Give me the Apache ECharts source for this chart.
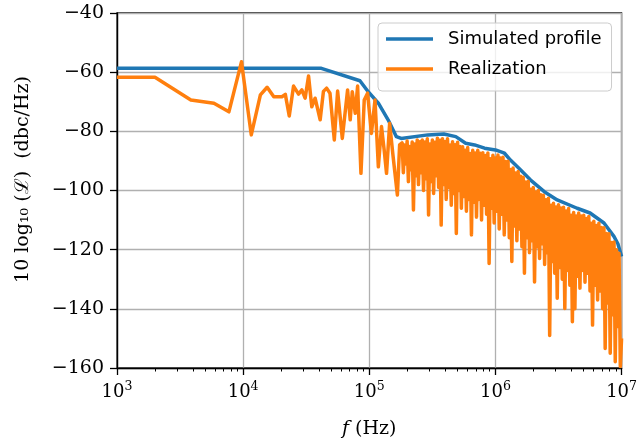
<!DOCTYPE html>
<html>
<head>
<meta charset="utf-8">
<script src="https://cdn.jsdelivr.net/npm/echarts@6/dist/echarts.min.js"></script>
<style>
  html, body { margin: 0; padding: 0; background: #ffffff; }
  #chart { width: 640px; height: 444px; }
</style>
</head>
<body>
<div id="chart"></div>
<script>
// Simulated phase-noise profile (Hz, dBc/Hz)
const profileFreq = [
  1e3, 4.17e4, 8.43e4, 9.8e4, 1.18e5, 1.41e5, 1.64e5, 1.79e5, 2.91e5, 3.9e5,
  4.85e5, 5.81e5, 6.84e5, 8.2e5, 1.0e6, 1.18e6, 1.315e6, 1.578e6, 1.891e6, 2.439e6,
  3.089e6, 4.441e6, 5.623e6, 7.251e6, 8.696e6, 9.35e6, 1e7
];
const profileLevel = [
  -58.7, -58.7, -62.9, -66.6, -70.5, -76.1, -81.8, -82.4, -81.2, -80.9,
  -81.8, -84.0, -84.6, -85.7, -86.3, -87.4, -89.7, -93.0, -96.4, -100.4,
  -103.2, -106.0, -107.6, -111.0, -115.5, -118.0, -122.3
];

// One noise realization drawn from the profile
const realizationFreq = [
  1e3, 2e3, 3.85e3, 5.87e3, 7.71e3, 9.7e3, 1.16e4, 1.37e4, 1.55e4, 1.75e4,
  2.03e4, 2.16e4, 2.32e4, 2.51e4, 2.75e4, 2.92e4, 3.1e4, 3.3e4, 3.5e4, 3.72e4,
  4.08e4, 4.33e4, 4.59e4, 4.88e4, 5.28e4, 5.61e4, 6.11e4, 6.73e4, 7.06e4, 7.33e4,
  7.74e4, 8.08e4, 8.59e4, 9.12e4, 9.69e4, 1.04e5, 1.11e5, 1.18e5, 1.25e5, 1.31e5,
  1.37e5, 1.45e5, 1.54e5, 1.67e5, 1.74e5,
  1.820e5, 1.862e5, 1.905e5, 1.950e5, 1.995e5, 2.042e5, 2.089e5, 2.138e5, 2.188e5, 2.239e5,
  2.291e5, 2.344e5, 2.399e5, 2.455e5, 2.512e5, 2.570e5, 2.630e5, 2.692e5, 2.754e5, 2.818e5,
  2.884e5, 2.951e5, 3.020e5, 3.090e5, 3.162e5, 3.236e5, 3.311e5, 3.388e5, 3.467e5, 3.548e5,
  3.631e5, 3.715e5, 3.802e5, 3.890e5, 3.981e5, 4.074e5, 4.169e5, 4.266e5, 4.365e5, 4.467e5,
  4.571e5, 4.677e5, 4.786e5, 4.898e5, 5.012e5, 5.129e5, 5.248e5, 5.370e5, 5.495e5, 5.623e5,
  5.754e5, 5.888e5, 6.026e5, 6.166e5, 6.310e5, 6.457e5, 6.607e5, 6.761e5, 6.918e5, 7.079e5,
  7.244e5, 7.413e5, 7.586e5, 7.762e5, 7.943e5, 8.128e5, 8.318e5, 8.511e5, 8.710e5, 8.913e5,
  9.120e5, 9.333e5, 9.550e5, 9.772e5,
  1.000e6, 1.023e6, 1.047e6, 1.072e6, 1.096e6, 1.122e6, 1.148e6, 1.175e6, 1.202e6, 1.230e6,
  1.259e6, 1.288e6, 1.318e6, 1.349e6, 1.380e6, 1.413e6, 1.445e6, 1.479e6, 1.514e6, 1.549e6,
  1.585e6, 1.622e6, 1.660e6, 1.698e6, 1.738e6, 1.778e6, 1.820e6, 1.862e6, 1.905e6, 1.950e6,
  1.995e6, 2.042e6, 2.089e6, 2.138e6, 2.188e6, 2.239e6, 2.291e6, 2.344e6, 2.399e6, 2.455e6,
  2.512e6, 2.570e6, 2.630e6, 2.692e6, 2.754e6, 2.818e6, 2.884e6, 2.951e6, 3.020e6, 3.090e6,
  3.162e6, 3.236e6, 3.311e6, 3.388e6, 3.467e6, 3.548e6, 3.631e6, 3.715e6, 3.802e6, 3.890e6,
  3.981e6, 4.074e6, 4.169e6, 4.266e6, 4.365e6, 4.467e6, 4.571e6, 4.677e6, 4.786e6, 4.898e6,
  5.012e6, 5.129e6, 5.248e6, 5.370e6, 5.495e6, 5.623e6, 5.754e6, 5.888e6, 6.026e6, 6.166e6,
  6.310e6, 6.457e6, 6.607e6, 6.761e6, 6.918e6, 7.079e6, 7.244e6, 7.413e6, 7.586e6, 7.762e6,
  7.943e6, 8.128e6, 8.318e6, 8.511e6, 8.710e6, 8.913e6, 9.120e6, 9.333e6, 9.550e6, 9.772e6,
  1e7
];
const realizationLevel = [
  -61.7, -61.7, -69.4, -70.5, -73.4, -56.5, -81.2, -67.7, -65.1, -68.3,
  -68.3, -67.5, -74.8, -64.7, -67.4, -66.0, -68.8, -61.3, -71.7, -68.8,
  -76.1, -66.5, -65.4, -67.1, -82.9, -66.4, -82.4, -66.0, -76.1, -66.6,
  -73.9, -64.7, -94.2, -69.4, -67.1, -80.7, -69.4, -92.0, -78.4, -86.0,
  -94.2, -77.3, -88.0, -101.5, -84.6,
  -83.9, -94.0, -84.6, -91.0, -83.3, -97.0, -85.1, -93.0, -83.6, -106.6,
  -84.3, -95.0, -82.9, -98.0, -83.5, -94.0, -82.9, -100.0, -83.6, -96.0,
  -82.5, -108.3, -84.3, -97.0, -82.9, -101.0, -83.7, -95.0, -82.3, -99.0,
  -83.0, -111.7, -82.5, -98.0, -83.4, -103.0, -82.5, -99.0, -84.6, -105.0,
  -83.5, -101.0, -84.5, -114.5, -83.7, -100.0, -85.1, -106.0, -85.2, -102.0,
  -86.4, -107.0, -85.5, -103.0, -87.5, -115.0, -86.4, -104.0, -87.3, -109.0,
  -86.4, -103.0, -87.4, -110.0, -87.2, -105.0, -88.2, -108.0, -87.3, -124.7,
  -89.3, -106.0, -88.1, -111.0,
  -89.0, -107.0, -88.0, -113.0, -89.0, -108.0, -88.8, -115.0, -90.2, -110.0,
  -90.1, -116.0, -92.9, -124.0, -92.4, -112.0, -94.1, -117.0, -93.6, -113.0,
  -95.2, -119.0, -95.5, -128.0, -97.1, -116.0, -96.9, -121.0, -99.6, -117.0,
  -99.0, -130.9, -100.5, -119.0, -100.0, -123.0, -101.4, -118.0, -101.6, -125.0,
  -103.1, -121.0, -102.6, -149.0, -105.0, -124.0, -104.3, -128.0, -105.6, -136.4,
  -104.8, -126.0, -105.9, -130.0, -105.7, -139.9, -106.9, -127.0, -106.1, -132.0,
  -108.4, -144.4, -107.4, -140.0, -108.6, -129.0, -107.6, -133.0, -108.6, -127.0,
  -108.4, -131.0, -109.5, -128.0, -108.8, -134.0, -111.1, -145.5, -110.4, -132.0,
  -111.8, -137.0, -111.1, -134.0, -112.5, -140.0, -112.6, -153.4, -114.5, -138.0,
  -114.6, -155.0, -117.6, -142.0, -117.4, -157.9, -120.0, -146.0, -121.2, -159.5,
  -150.0
];

// Axis ticks
const minorFreqTicks = [
  2e3, 3e3, 4e3, 5e3, 6e3, 7e3, 8e3, 9e3,
  2e4, 3e4, 4e4, 5e4, 6e4, 7e4, 8e4, 9e4,
  2e5, 3e5, 4e5, 5e5, 6e5, 7e5, 8e5, 9e5,
  2e6, 3e6, 4e6, 5e6, 6e6, 7e6, 8e6, 9e6
];
const freqMin = 1e3, freqMax = 1e7;
const levelMin = -160, levelMax = -40, levelStep = 20;

const serif = '"DejaVu Serif", serif';
const pair = (xs, ys) => xs.map((x, i) => [x, ys[i]]);

const chart = echarts.init(document.getElementById('chart'), null, { renderer: 'canvas' });

chart.setOption({
  animation: false,
  backgroundColor: '#ffffff',
  grid: {
    left: 117, right: 15, top: 13, bottom: 76,
    show: true, borderColor: '#000000', borderWidth: 1.3, backgroundColor: 'transparent'
  },
  legend: {
    data: ['Simulated profile', 'Realization'],
    orient: 'vertical',
    left: 378, top: 23,
    padding: [6, 10, 12, 8],
    icon: 'rect',
    itemWidth: 47, itemHeight: 3.5, itemGap: 10,
    backgroundColor: 'rgba(255,255,255,0.8)',
    borderColor: '#cccccc', borderWidth: 1, borderRadius: 4,
    textStyle: {
      fontFamily: '"DejaVu Sans", sans-serif', fontSize: 18, color: '#000000',
      lineHeight: 20, padding: [0, 0, 0, 10]
    }
  },
  xAxis: [
    {
      type: 'log', logBase: 10, min: freqMin, max: freqMax,
      name: '{i|f} (Hz)', nameLocation: 'middle', nameGap: 52,
      nameTextStyle: {
        fontFamily: serif, fontSize: 19, color: '#000',
        rich: { i: { fontFamily: serif, fontStyle: 'italic', fontSize: 19, color: '#000' } }
      },
      axisLine: { show: true, lineStyle: { color: '#000', width: 1.3 } },
      axisTick: { show: true, inside: false, length: 7, lineStyle: { color: '#000', width: 1.3 } },
      splitLine: { show: true, lineStyle: { color: '#b0b0b0', width: 1.3 } },
      axisLabel: {
        margin: 12, color: '#000',
        formatter: (v) => '{b|10}{s|' + Math.round(Math.log10(v)) + '}',
        rich: {
          b: { fontFamily: serif, fontSize: 18, color: '#000' },
          s: { fontFamily: serif, fontSize: 12.5, color: '#000', padding: [0, 0, 12, 0] }
        }
      }
    },
    {
      // minor ticks at 2..9 x 10^k, placed on a decade-exponent scale
      type: 'value', min: Math.log10(freqMin), max: Math.log10(freqMax), position: 'bottom',
      axisLine: { show: false },
      axisLabel: { show: false },
      splitLine: { show: false },
      axisTick: {
        show: true, inside: false, length: 3.5,
        customValues: minorFreqTicks.map(Math.log10),
        lineStyle: { color: '#000', width: 1 }
      }
    }
  ],
  yAxis: {
    type: 'value', min: levelMin, max: levelMax, interval: levelStep,
    name: '10 log\u2081\u2080 (\u2112)  (dbc/Hz)', nameLocation: 'middle', nameGap: 84,
    nameTextStyle: { fontFamily: serif, fontSize: 19, color: '#000', padding: [0, 0, 0, 22] },
    axisLine: { show: true, lineStyle: { color: '#000', width: 1.3 } },
    axisTick: { show: true, inside: false, length: 7, lineStyle: { color: '#000', width: 1.3 } },
    splitLine: { show: true, lineStyle: { color: '#b0b0b0', width: 1.3 } },
    axisLabel: {
      margin: 13, fontFamily: serif, fontSize: 19, color: '#000',
      formatter: (v) => (v < 0 ? '\u2212' + Math.abs(v) : String(v))
    }
  },
  series: [
    {
      name: 'Simulated profile', type: 'line', xAxisIndex: 0,
      data: pair(profileFreq, profileLevel),
      symbol: 'none', clip: true, z: 2,
      lineStyle: { color: '#1f77b4', width: 3.5, join: 'round' },
      itemStyle: { color: '#1f77b4' }
    },
    {
      name: 'Realization', type: 'line', xAxisIndex: 0,
      data: pair(realizationFreq, realizationLevel),
      symbol: 'none', clip: true, z: 3,
      lineStyle: { color: '#ff7f0e', width: 3.5, join: 'round' },
      itemStyle: { color: '#ff7f0e' }
    }
  ]
});
</script>
</body>
</html>
